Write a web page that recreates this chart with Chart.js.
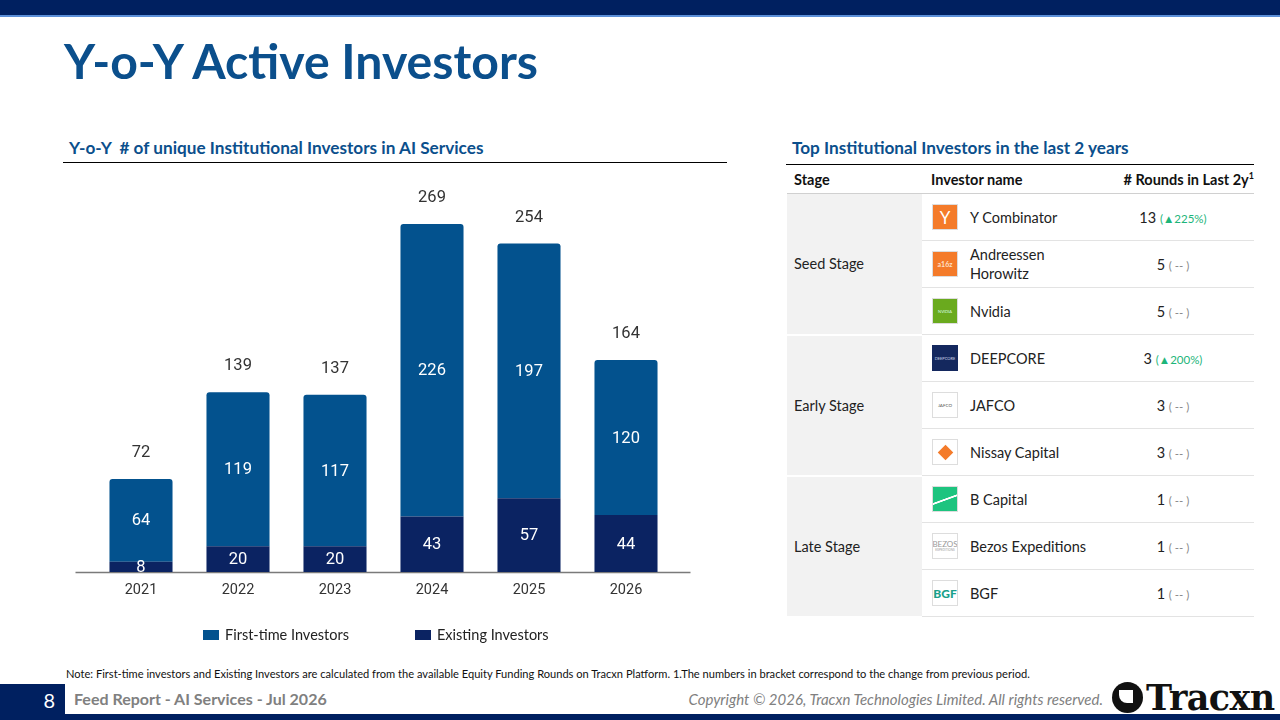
<!DOCTYPE html>
<html>
<head>
<meta charset="utf-8">
<script src="https://cdn.jsdelivr.net/npm/chart.js@4.4.1/dist/chart.umd.min.js"></script>
<style>
  html,body{margin:0;padding:0;}
  body{width:1280px;height:720px;position:relative;overflow:hidden;background:#fff;font-family:Lato,"Open Sans",sans-serif;color:#222;}
  .abs{position:absolute;}
  #topbar{left:0;top:0;width:1280px;height:15px;background:#002060;}
  #topline{left:0;top:15px;width:1280px;height:2px;background:#5B8FD8;}
  #title{left:64px;top:31px;font-size:48.2px;font-weight:700;color:#0B4F8C;white-space:nowrap;}
  .sect{font-size:17.2px;font-weight:700;color:#0B4F8C;white-space:nowrap;}
  #sec1{left:69px;top:137px;}
  #sec2{left:792px;top:137px;}
  #rule1{left:63px;top:162px;width:664px;height:1px;background:#000;}
  #rule2{left:786px;top:164px;width:468px;height:1px;background:#000;}
  #chartWrap{left:65px;top:165px;width:660px;height:495px;}
  table{border-collapse:collapse;table-layout:fixed;position:absolute;left:787px;top:165px;width:467px;font-size:14.5px;}
  th{font-weight:700;height:28px;text-align:left;padding:0 0 0 7px;border-bottom:1px solid #D0D0D0;font-size:14.5px;color:#111;}
  td{height:46px;padding:0;border-bottom:1px solid #E3E3E3;}
  td.stage{background:#F2F2F2;padding-left:7px;border-bottom:2px solid #fff;color:#222;}
  td.inv{padding-left:10px;}
  td.rnd{text-align:center;color:#222;}
  .invwrap{display:flex;align-items:center;}
  .logo{width:26px;height:26px;box-sizing:border-box;margin-right:12px;flex:none;display:flex;align-items:center;justify-content:center;overflow:hidden;}
  .name{line-height:19px;}
  .chg{font-size:11.5px;}
  .up{color:#1DB57A;}
  .nc{color:#888;}
  sup{font-size:9px;}
  #note{left:66px;top:667px;font-size:11.1px;color:#111;white-space:nowrap;}
  #fnum{left:0;top:684px;width:65px;height:36px;background:#002060;color:#fff;font-size:20px;text-align:right;box-sizing:border-box;padding-right:10px;line-height:32px;}
  #fband{left:0;top:714px;width:1280px;height:6px;background:#002060;}
  #ftext{left:74px;top:689px;font-size:16px;font-weight:700;color:#808080;white-space:nowrap;}
  #copy{right:177px;top:690px;font-size:15px;font-style:italic;color:#808080;white-space:nowrap;}
  #logoT{left:1112px;top:681px;height:32px;display:flex;align-items:center;}
  #logoT .circ{width:31px;height:31px;border-radius:50%;background:#111;position:relative;margin-right:3px;}
  #logoT .circ:after{content:"";position:absolute;left:7px;top:8px;width:14px;height:13px;background:#fff;border-radius:0 0 0 8px;}
  #logoT span{font-family:"DejaVu Serif","Liberation Serif",serif;font-weight:700;font-size:35px;color:#111;letter-spacing:-0.6px;}
</style>
</head>
<body>
<div class="abs" id="topbar"></div>
<div class="abs" id="topline"></div>
<div class="abs" id="title">Y-o-Y Active Investors</div>
<div class="abs sect" id="sec1">Y-o-Y&nbsp; # of unique Institutional Investors in AI Services</div>
<div class="abs sect" id="sec2">Top Institutional Investors in the last 2 years</div>
<div class="abs" id="rule1"></div>
<div class="abs" id="rule2"></div>
<div class="abs" id="chartWrap"><canvas id="c"></canvas></div>

<table id="tbl">
  <colgroup><col style="width:135px"><col style="width:170px"><col style="width:162px"></colgroup>
  <thead><tr><th>Stage</th><th style="padding-left:9px">Investor name</th><th style="text-align:right;padding:0">&nbsp;# Rounds in Last 2y<sup>1</sup></th></tr></thead>
  <tbody id="tbody"></tbody>
</table>

<div class="abs" id="note">Note: First-time investors and Existing Investors are calculated from the available Equity Funding Rounds on Tracxn Platform. 1.The numbers in bracket correspond to the change from previous period.</div>
<div class="abs" id="fnum">8</div>
<div class="abs" id="fband"></div>
<div class="abs" id="ftext">Feed Report - AI Services - Jul 2026</div>
<div class="abs" id="copy">Copyright © 2026, Tracxn Technologies Limited. All rights reserved.</div>
<div class="abs" id="logoT"><div class="circ"></div><span>Tracxn</span></div>

<script>
// ---- Chart data ----
const years = ["2021","2022","2023","2024","2025","2026"];
const firstTime = [64,119,117,226,197,120];
const existing = [8,20,20,43,57,44];
const totals = [72,139,137,269,254,164];
const seriesNames = ["First-time Investors","Existing Investors"];

// ---- Table data ----
const stages = ["Seed Stage","Early Stage","Late Stage"];
const investors = ["Y Combinator","Andreessen Horowitz","Nvidia","DEEPCORE","JAFCO","Nissay Capital","B Capital","Bezos Expeditions","BGF"];
const rounds = [13,5,5,3,3,3,1,1,1];
const changes = ["▲225%","--","--","▲200%","--","--","--","--","--"];

const logoHtml = [
  '<div class="logo" style="background:#F47B2A;color:#fff;font-size:17px;border:1px solid #ddd;">Y</div>',
  '<div class="logo" style="background:#F47B2A;color:#fde0c8;font-size:7px;font-weight:700;border:1px solid #ddd;">a16z</div>',
  '<div class="logo" style="background:#6AAA1E;color:#dfe;font-size:4px;border:1px solid #ddd;">NVIDIA</div>',
  '<div class="logo" style="background:#14285E;color:#cfd6ea;font-size:4px;">DEEPCORE</div>',
  '<div class="logo" style="background:#fff;color:#555;font-size:4.5px;border:1px solid #ddd;">JAFCO</div>',
  '<div class="logo" style="background:#fff;border:1px solid #ddd;"><div style="width:11px;height:11px;background:#F47B2A;transform:rotate(45deg);"></div></div>',
  '<div class="logo" style="background:linear-gradient(160deg,#1DC47F 48%,#fff 50%,#fff 54%,#1DC47F 56%);border:1px solid #ddd;"></div>',
  '<div class="logo" style="background:#fff;color:#999;font-size:8px;line-height:8px;border:1px solid #ddd;flex-direction:column;">BEZOS<span style="font-size:3px;line-height:4px">EXPEDITIONS</span></div>',
  '<div class="logo" style="background:#fff;color:#1AA08A;font-size:12px;font-weight:900;border:1px solid #ddd;">BGF</div>'
];

const tbody = document.getElementById('tbody');
let html = '';
for (let i = 0; i < investors.length; i++) {
  html += '<tr>';
  if (i % 3 === 0) html += '<td class="stage" rowspan="3">' + stages[i/3] + '</td>';
  const nm = investors[i] === "Andreessen Horowitz" ? "Andreessen<br>Horowitz" : investors[i];
  const cls = changes[i] === "--" ? "nc" : "up";
  const chg = changes[i] === "--" ? "( -- )" : "(" + changes[i] + ")";
  html += '<td class="inv"><div class="invwrap">' + logoHtml[i] + '<span class="name">' + nm + '</span></div></td>';
  html += '<td class="rnd">' + rounds[i] + ' <span class="chg ' + cls + '">' + chg + '</span></td>';
  html += '</tr>';
}
tbody.innerHTML = html;

// ---- Plugins ----
const baselinePlugin = {
  id: 'baseline',
  beforeDatasetsDraw(chart) {
    const {ctx, chartArea, scales} = chart;
    const y = scales.y.getPixelForValue(0);
    ctx.save();
    ctx.strokeStyle = '#7a7a7a';
    ctx.lineWidth = 1.5;
    ctx.beginPath();
    ctx.moveTo(chartArea.left - 17, y + 0.5);
    ctx.lineTo(chartArea.right + 16, y + 0.5);
    ctx.stroke();
    ctx.restore();
  }
};
const labelPlugin = {
  id: 'labels',
  afterDatasetsDraw(chart) {
    const {ctx} = chart;
    ctx.save();
    ctx.textAlign = 'center';
    ctx.textBaseline = 'middle';
    ctx.font = '16.5px Roboto';
    chart.data.datasets.forEach((ds, di) => {
      const meta = chart.getDatasetMeta(di);
      meta.data.forEach((bar, i) => {
        ctx.fillStyle = '#ffffff';
        ctx.fillText(String(ds.data[i]), bar.x, (bar.y + bar.base) / 2 + 1);
      });
    });
    const topMeta = chart.getDatasetMeta(1);
    topMeta.data.forEach((bar, i) => {
      ctx.fillStyle = '#333333';
      ctx.fillText(String(totals[i]), bar.x, bar.y - 26);
    });
    ctx.restore();
  }
};
// legend drawn from the datasets, spread like the reference
const legendPlugin = {
  id: 'spreadLegend',
  afterDraw(chart) {
    const {ctx} = chart;
    const items = chart.data.datasets.map((ds) => ({text: ds.label, color: ds.backgroundColor}))
      .sort((a, b) => seriesNames.indexOf(a.text) - seriesNames.indexOf(b.text));
    const startX = [138, 350];   // canvas x of the legend boxes
    const y = 470;               // canvas y of legend centre
    ctx.save();
    ctx.font = '14.5px Lato';
    ctx.textBaseline = 'middle';
    ctx.textAlign = 'left';
    items.forEach((it, k) => {
      ctx.fillStyle = it.color;
      ctx.fillRect(startX[k], y - 5, 16, 10);
      ctx.fillStyle = '#222';
      ctx.fillText(it.text, startX[k] + 22, y);
    });
    ctx.restore();
  }
};

new Chart(document.getElementById('c'), {
  type: 'bar',
  data: {
    labels: years,
    datasets: [
      {label: seriesNames[1], data: existing, backgroundColor: '#0B2362', borderRadius: 0,
       categoryPercentage: 1, barPercentage: 0.65},
      {label: seriesNames[0], data: firstTime, backgroundColor: '#03528E',
       borderRadius: {topLeft: 3, topRight: 3, bottomLeft: 0, bottomRight: 0}, borderSkipped: 'start',
       categoryPercentage: 1, barPercentage: 0.65}
    ]
  },
  options: {
    responsive: true,
    maintainAspectRatio: false,
    animation: false,
    layout: {padding: {left: 27.5, right: 50.5, top: 19, bottom: 0}},
    plugins: {
      legend: {display: false},
      tooltip: {enabled: false}
    },
    scales: {
      x: {
        stacked: true,
        grid: {display: false, drawTicks: false, tickLength: 0},
        border: {display: false},
        ticks: {color: '#333', font: {family: 'Roboto', size: 14.5}, padding: 10},
        afterFit(scale) { scale.height = 88; }
      },
      y: {
        stacked: true, display: false, min: 0, max: 300
      }
    }
  },
  plugins: [baselinePlugin, labelPlugin, legendPlugin]
});
</script>
</body>
</html>
